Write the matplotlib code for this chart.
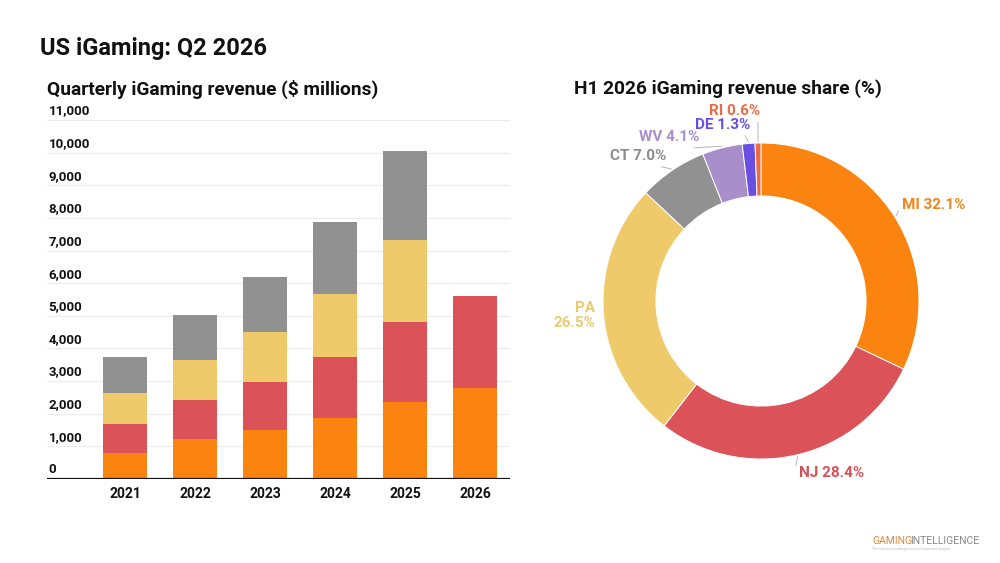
import matplotlib
matplotlib.use("Agg")
import matplotlib.pyplot as plt
import matplotlib.transforms as mtransforms
import numpy as np

plt.rcParams['font.family'] = ['Roboto', 'DejaVu Sans']

# ---------------------------------------------------------
# Data
# ---------------------------------------------------------
years = ["2021", "2022", "2023", "2024", "2025", "2026"]
q1 = [800, 1220, 1510, 1880, 2370, 2800]
q2 = [880, 1210, 1470, 1860, 2430, 2820]
q3 = [950, 1210, 1510, 1930, 2510, 0]
q4 = [1100, 1380, 1690, 2210, 2730, 0]
quarter_colors = ["#FA840F", "#DB5258", "#EFCA6B", "#919191"]

yticks = [0, 1000, 2000, 3000, 4000, 5000, 6000, 7000, 8000, 9000, 10000, 11000]

states = ["MI", "NJ", "PA", "CT", "WV", "DE", "RI"]
shares = [32.1, 28.4, 26.5, 7.0, 4.1, 1.3, 0.6]
state_colors = ["#FA840F", "#DB5258", "#EFCA6B", "#919191", "#A98ECC", "#6A4FE3", "#EE6A45"]
label_colors = ["#F2861E", "#D6505A", "#EBC96F", "#8C8C8C", "#A98ECC", "#6650E0", "#EE6A45"]

# label anchor (pie units) and alignment for each slice
label_pos = {
    "MI": (0.89, 0.61, "left"),
    "NJ": (0.24, -1.09, "left"),
    "PA": (-1.05, -0.09, "right"),
    "CT": (-0.60, 0.92, "right"),
    "WV": (-0.39, 1.04, "right"),
    "DE": (-0.07, 1.115, "right"),
    "RI": (-0.005, 1.20, "right"),
}

W, H = 1000, 563
fig = plt.figure(figsize=(W / 100, H / 100), dpi=100)
fig.patch.set_facecolor("white")

fig.text(40 / W, 1 - 48 / H, "US iGaming: Q2 2026", fontsize=17, fontweight="bold",
         color="#111111", va="center", ha="left")
fig.text(47 / W, 1 - 89 / H, "Quarterly iGaming revenue ($ millions)", fontsize=13.8,
         fontweight="bold", color="#111111", va="center", ha="left")
fig.text(574 / W, 1 - 89 / H, "H1 2026 iGaming revenue share (%)", fontsize=13.8,
         fontweight="bold", color="#111111", va="center", ha="left")

# ---------------------------------------------------------
# Stacked bars
# ---------------------------------------------------------
ax = fig.add_axes([47 / W, (H - 479) / H, (510 - 47) / W, (479 - 120) / H])
x = np.arange(len(years))
bottom = np.zeros(len(years))
for vals, col in zip([q1, q2, q3, q4], quarter_colors):
    vals = np.array(vals, dtype=float)
    ax.bar(x, vals, bottom=bottom, width=0.62, color=col, zorder=2)
    bottom += vals

ax.set_xlim(-1.115, 5.5)
ax.set_ylim(0, 11000)
for t in yticks[1:]:
    ax.axhline(t, color="#ebebeb", linewidth=0.8, zorder=0)
ax.axhline(0, color="#111111", linewidth=1.6, zorder=3)
for s in ax.spines.values():
    s.set_visible(False)
ax.set_yticks([])
ax.set_xticks(x)
ax.set_xticklabels(years, fontsize=10, fontweight="bold", color="#111111")
ax.tick_params(axis="x", length=0, pad=6)

trans = mtransforms.blended_transform_factory(ax.transAxes, ax.transData)
trans = mtransforms.offset_copy(trans, fig=fig, y=6.5, units="points")
for t in yticks:
    ax.text(0.003, t, f"{t:,}", transform=trans, fontsize=9.5, fontweight="bold",
            color="#111111", va="center", ha="left")

# ---------------------------------------------------------
# Donut
# ---------------------------------------------------------
r_px = 158
cx, cy = 761, 301
lim = 1.5
size = 2 * lim * r_px
ax2 = fig.add_axes([(cx - size / 2) / W, (H - cy - size / 2) / H, size / W, size / H])
wedges, _ = ax2.pie(shares, colors=state_colors, startangle=90, counterclock=False,
                    radius=1.0, wedgeprops=dict(width=0.335, edgecolor="white", linewidth=0.7))
ax2.set_xlim(-lim, lim)
ax2.set_ylim(-lim, lim)
ax2.set_aspect("equal")
ax2.axis("off")

for w, st, sh, lc in zip(wedges, states, shares, label_colors):
    lx, ly, ha = label_pos[st]
    mid = np.deg2rad((w.theta1 + w.theta2) / 2)
    ex, ey = np.cos(mid) * 1.0, np.sin(mid) * 1.0
    txt = f"{st}\n{sh:.1f}%" if st == "PA" else f"{st} {sh:.1f}%"
    ax2.text(lx, ly, txt, color=lc, fontsize=11, fontweight="bold", ha=ha, va="center",
             multialignment="right", linespacing=1.1)
    # short leader line from slice edge toward the label
    if st == "PA":
        continue
    if ha == "left":
        tx, ty = lx - 0.02, ly + (0.05 if ly < 0 else -0.04)
    else:
        tx, ty = lx - 0.03 if st != "RI" else ex, ly - 0.07
    ax2.plot([ex * 1.01, tx], [ey * 1.01, ty], color="#b5b5b5", linewidth=0.7)

# ---------------------------------------------------------
# Logo
# ---------------------------------------------------------
fig.text(872 / W, 1 - 541 / H, "GAMING", fontsize=7.5, color="#D98B3D",
         ha="left", va="center")
fig.text(910 / W, 1 - 541 / H, "INTELLIGENCE", fontsize=7.5, color="#8a8a8a",
         ha="left", va="center")
fig.text(872 / W, 1 - 549 / H, "The industry's leading source of news and analysis",
         fontsize=2.5, color="#bbbbbb", ha="left", va="center")

fig.savefig("out.png", dpi=100, facecolor="white")
